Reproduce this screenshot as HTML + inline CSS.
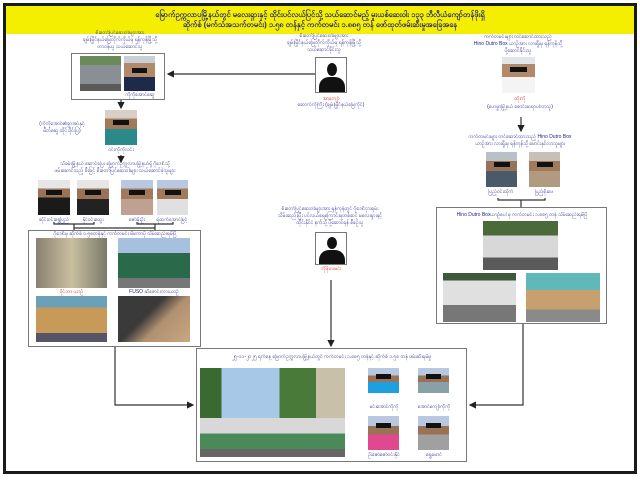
<!DOCTYPE html>
<html><head><meta charset="utf-8"><style>
*{margin:0;padding:0;box-sizing:border-box}
body{width:640px;height:480px;background:#fff;position:relative;overflow:hidden;font-family:"Liberation Sans","Noto Sans CJK SC",sans-serif}
.a{position:absolute}
.frame{left:3px;top:3px;width:634px;height:471px;border:3px solid #1a1a1a}
.hdr{left:6px;top:6px;width:628px;height:28px;background:#f4ee00;color:#1e1e7a;font-size:7.5px;text-align:center;line-height:10px;padding-top:4px;font-weight:bold}
.t{color:#1e1e8a;font-size:5px;line-height:7px;text-align:center;white-space:nowrap;overflow:hidden}
.r{color:#d01010}
.box{border:1px solid #777;background:#fff}
.ph{position:absolute;overflow:hidden}
.bar{position:absolute;background:#111;height:5px}
</style></head><body>
<div class="a frame"></div>
<div class="a hdr">မြောက်ဥက္ကလာပမြို့နယ်တွင် မလေးရှားနှင့် ထိုင်းပင်လယ်ပြင်သို့ သယ်ဆောင်မည့် မူးယစ်ဆေးဝါး ၁၃၃ ဘီလီယံကျော်တန်ဖိုးရှိ<br>ဆိုက်စ် (မက်သံအသက်တမင်း) ၁.၅၈ တန်နှင့် ကက်တမင်း ၁.၈၈၅ တန် ဖော်ထုတ်ဖမ်းဆီးမှုအခြေအနေ</div>

<div class="a t" style="left:60px;top:30px;width:120px">စီးတော်ပြင်ဆေးဝါးများအား<br>ချမ်းမြိုင်နယ်မြေတိုက်ကိုယ်မှ ရန်ကုန်မြို့သို့<br>တာဝန်ယူ သယ်ဆောင်သူ</div>
<div class="a box" style="left:71px;top:53px;width:94px;height:47px"></div>
<div class="ph" style="left:80px;top:56px;width:41px;height:35px;background:linear-gradient(#6a8a5a 0 25%,#8a8f95 25% 80%,#5a5a5a 80%)"></div>
<div class="ph" style="left:124px;top:56px;width:31px;height:35px;background:linear-gradient(#c9cfd6 0 20%,#b08a6a 20% 60%,#1e2a4a 60%)"><div class="bar" style="left:8px;top:12px;width:15px"></div></div>
<div class="a t" style="left:110px;top:92px;width:60px">ကိုကိုအောင်ဆွေ</div>

<div class="a t" style="left:38px;top:121px;width:48px">(ကိုကိုအောင်၏ခွာအပ်နှင့်<br>မိတ်ဆွေ ထိုင်းဒိုင်းပြ)</div>
<div class="ph" style="left:105px;top:110px;width:32px;height:35px;background:linear-gradient(#d8d0c8 0 25%,#a07a5a 25% 55%,#2a8a8a 55%)"><div class="bar" style="left:8px;top:10px;width:16px"></div></div>
<div class="a t" style="left:95px;top:147px;width:52px">ဝင်းကိုကိုလင်း</div>

<div class="a t" style="left:30px;top:161px;width:170px">သီခမ်းမြို့နယ် ဆောင်ပြေး မြောက်ဥက္ကလာပမြို့နယ်ရှိ ဂိုဒေါင်သို့<br>ဖမ်းဆောင်သည့် စီးဖြင့် စီးတော်ပြင်ဆေးဝါးများ သယ်ဆောင်ခဲ့သူများ</div>
<div class="ph" style="left:38px;top:180px;width:32px;height:35px;background:linear-gradient(#e6e6e6 0 25%,#9a7258 25% 50%,#1a1a1a 50%)"><div class="bar" style="left:8px;top:10px;width:16px"></div></div>
<div class="ph" style="left:77px;top:180px;width:32px;height:35px;background:linear-gradient(#e6e6e6 0 25%,#9a7258 25% 55%,#222 55%)"><div class="bar" style="left:8px;top:10px;width:16px"></div></div>
<div class="ph" style="left:121px;top:180px;width:32px;height:35px;background:linear-gradient(#b8c8e0 0 25%,#a07a5a 25% 55%,#c0a090 55%)"><div class="bar" style="left:8px;top:10px;width:16px"></div></div>
<div class="ph" style="left:157px;top:180px;width:31px;height:35px;background:linear-gradient(#b8c8e0 0 25%,#a07a5a 25% 55%,#e0e0e0 55%)"><div class="bar" style="left:8px;top:10px;width:16px"></div></div>
<div class="a t" style="left:30px;top:217px;width:48px">ဆိုင်းဝင်းရွှေပြည်</div>
<div class="a t" style="left:70px;top:217px;width:46px">နိုင်ဝင်းထွေး</div>
<div class="a t" style="left:114px;top:217px;width:46px">ဇော်မိုးဦး</div>
<div class="a t" style="left:149px;top:217px;width:46px">ရဲထက်အောင်မြင့်</div>

<div class="a box" style="left:28px;top:230px;width:173px;height:117px"></div>
<div class="a t" style="left:30px;top:231px;width:170px">ဂိုဒေါင်မှ ဆိုက်စ် ၁.၅၈တန်နှင့် ကက်တမင်း မိမကာပို သိမ်းဆည်းရမိပြီ</div>
<div class="ph" style="left:36px;top:238px;width:71px;height:50px;background:linear-gradient(90deg,#8a8070,#c8c0a0 50%,#7a7a6a)"></div>
<div class="ph" style="left:118px;top:238px;width:72px;height:50px;background:linear-gradient(#a8c0e0 0 30%,#2a6a4a 30% 80%,#777 80%)"></div>
<div class="a t r" style="left:36px;top:289px;width:71px">ဝိုင်ဘာ ယာဉ်</div>
<div class="a t" style="left:118px;top:289px;width:72px">FUSO ဆီစောင်းကားယာဉ်</div>
<div class="ph" style="left:36px;top:296px;width:71px;height:46px;background:linear-gradient(#6aa0b8 0 25%,#c89a5a 25% 80%,#556 80%)"></div>
<div class="ph" style="left:118px;top:296px;width:72px;height:46px;background:linear-gradient(135deg,#3a3a3a 0 40%,#b09070 60%,#c8a880)"></div>

<div class="a t" style="left:264px;top:33px;width:120px">စီးတော်ပြင်ဆေးဝါးများအား<br>ချမ်းမြိုင်နယ်မြေတိုက်ကိုယ်မှ ရန်ကုန်မြို့သို့<br>သယ်ဆောင်ခိုင်းသူ</div>
<div class="ph box" style="left:315px;top:57px;width:32px;height:36px;background:#fff">
<div class="a" style="left:11px;top:5px;width:10px;height:13px;border-radius:50%;background:#111"></div>
<div class="a" style="left:3px;top:19px;width:26px;height:17px;border-radius:10px 10px 0 0;background:#111"></div></div>
<div class="a t r" style="left:300px;top:96px;width:62px">အာကျော်</div>
<div class="a t" style="left:285px;top:102px;width:92px">ဆောက်ကိုကြီး (ချမ်းမြိုင်နယ်မြေကိုင်)</div>

<div class="a t" style="left:265px;top:206px;width:130px">စီးတော်ပြင်ဆေးဝါးများအား ရန်ကုန်တွင် ဂိုဒေါင်ငှားရမ်း<br>သိမ်းဆည်းပြီး ပင်လယ်ရေကြောင်းမှတစ်ဆင့် မလေးရှားနှင့်<br>ထိုင်းနိုင်ငံ နက်သို့ ပို့ဆောင်ရန် စီစဉ်သူ</div>
<div class="ph box" style="left:315px;top:232px;width:32px;height:33px;background:#fff">
<div class="a" style="left:11px;top:4px;width:10px;height:12px;border-radius:50%;background:#111"></div>
<div class="a" style="left:3px;top:17px;width:26px;height:16px;border-radius:10px 10px 0 0;background:#111"></div></div>
<div class="a t r" style="left:300px;top:266px;width:62px">ကိုဖိုးလမင်း</div>

<div class="a t" style="left:460px;top:34px;width:116px">ကက်တမင်းများ တင်ဆောင်ထားသည့်<br>Hino Dutro Box ယာဉ်အား လားရှိုးမှ ရန်ကုန်သို့<br>ပို့ဆောင်ခိုင်းသူ</div>
<div class="ph" style="left:502px;top:57px;width:33px;height:36px;background:linear-gradient(#e0e6ea 0 20%,#b08a6a 20% 55%,#f4f4f4 55%)"><div class="bar" style="left:8px;top:10px;width:17px"></div></div>
<div class="a t r" style="left:490px;top:96px;width:60px">ထိုးကို</div>
<div class="a t" style="left:470px;top:104px;width:100px">(ဟေမွှာမြို့နယ် စောင်းဆရာပါလာသူ)</div>

<div class="a t" style="left:455px;top:134px;width:130px">ကက်တမင်းများ တင်ဆောင်ထားသည့် Hino Dutro Box<br>ယာဉ်အား လားရှိုးမှ ရန်ကုန်သို့ မောင်းနှင်လာသူများ</div>
<div class="ph" style="left:486px;top:152px;width:31px;height:35px;background:linear-gradient(#b8c0c8 0 25%,#9a7258 25% 55%,#4a5a6a 55%)"><div class="bar" style="left:8px;top:10px;width:16px"></div></div>
<div class="ph" style="left:529px;top:152px;width:31px;height:35px;background:linear-gradient(#c8c0b8 0 25%,#a07a5a 25% 55%,#b09a80 55%)"><div class="bar" style="left:8px;top:10px;width:16px"></div></div>
<div class="a t" style="left:478px;top:189px;width:46px">ပြည့်ဝင်းထိုက်</div>
<div class="a t" style="left:521px;top:189px;width:46px">ပြည့်စိုးဖေ</div>

<div class="a box" style="left:436px;top:207px;width:171px;height:117px"></div>
<div class="a t" style="left:438px;top:212px;width:168px">Hino Dutro Boxယာဉ်ပေါ်မှ ကက်တမင်း ၁.၈၈၅ တန် သိမ်းဆည်းရမိပြီ</div>
<div class="ph" style="left:483px;top:221px;width:75px;height:49px;background:linear-gradient(#4a6a3a 0 30%,#d8d8d8 30% 75%,#5a5a5a 75%)"></div>
<div class="ph" style="left:443px;top:273px;width:73px;height:49px;background:linear-gradient(#3a5a3a 0 15%,#e0e0e0 15% 65%,#777 65%)"></div>
<div class="ph" style="left:526px;top:273px;width:74px;height:49px;background:linear-gradient(#60b8b8 0 35%,#c8a070 35% 75%,#8a8a8a 75%)"></div>

<div class="a box" style="left:196px;top:348px;width:271px;height:114px"></div>
<div class="a t" style="left:200px;top:354px;width:263px">၂၅-၁၁-၂၀၂၅ ရက်နေ့ မြောက်ဥက္ကလာပမြို့နယ်တွင် ကက်တမင်း ၁.၈၈၅ တန်နှင့် ဆိုက်စ် ၁.၅၈ တန် ဖမ်းဆီးရမိမှု</div>
<div class="ph" style="left:200px;top:368px;width:145px;height:89px;background:linear-gradient(90deg,#3a6a30 0 15%,#a8c8e8 15% 55%,#4a7a3a 55% 80%,#c8c0a8 80%)">
<div class="a" style="left:0;top:50px;width:145px;height:39px;background:linear-gradient(#d8d8d8 0 40%,#4a8a5a 40% 80%,#666 80%)"></div></div>
<div class="ph" style="left:368px;top:368px;width:31px;height:25px;background:linear-gradient(#b8c8e0 0 30%,#9a7258 30% 55%,#1ea0e0 55%)"><div class="bar" style="left:8px;top:6px;width:15px"></div></div>
<div class="ph" style="left:418px;top:368px;width:31px;height:25px;background:linear-gradient(#b8c8e0 0 30%,#9a7258 30% 55%,#8aa0a8 55%)"><div class="bar" style="left:8px;top:6px;width:15px"></div></div>
<div class="a t" style="left:360px;top:404px;width:48px">မင်းအောင်ကိုကို</div>
<div class="a t" style="left:410px;top:404px;width:48px">အောင်ကျော်ကိုကို</div>
<div class="ph" style="left:368px;top:416px;width:31px;height:34px;background:linear-gradient(#b8c8e0 0 30%,#9a7258 30% 55%,#e04890 55%)"><div class="bar" style="left:8px;top:7px;width:15px"></div></div>
<div class="ph" style="left:418px;top:416px;width:31px;height:34px;background:linear-gradient(#b8c8e0 0 30%,#9a7258 30% 55%,#a0a0a0 55%)"><div class="bar" style="left:8px;top:7px;width:15px"></div></div>
<div class="a t" style="left:355px;top:452px;width:58px">ဦးဇော်ဇော်ဝင်းနိုင်</div>
<div class="a t" style="left:410px;top:452px;width:48px">ရွှေမောင်</div>

<svg class="a" style="left:0;top:0" width="640" height="480">
<defs><marker id="m" markerWidth="6" markerHeight="6" refX="5" refY="3" orient="auto"><path d="M0,0 L6,3 L0,6z" fill="#222"/></marker></defs>
<g stroke="#333" stroke-width="1.2" fill="none">
<line x1="315" y1="74" x2="168" y2="74" marker-end="url(#m)"/>
<line x1="121" y1="100" x2="121" y2="108" marker-end="url(#m)"/>
<line x1="121" y1="155" x2="121" y2="162" marker-end="url(#m)"/>
<line x1="521" y1="117" x2="521" y2="131" marker-end="url(#m)"/>
<path d="M54 222v2h40v-2M74 224v6M137 222v2h36v-2M155 224v6M74 226v2h81v-2"/>
<path d="M498 198v2h47v-2M521 200v7"/>
<line x1="331" y1="280" x2="331" y2="346" marker-end="url(#m)"/>
<path d="M115 347V405H193" marker-end="url(#m)"/>
<path d="M523 324V405H470" marker-end="url(#m)"/>
</g></svg>
</body></html>
